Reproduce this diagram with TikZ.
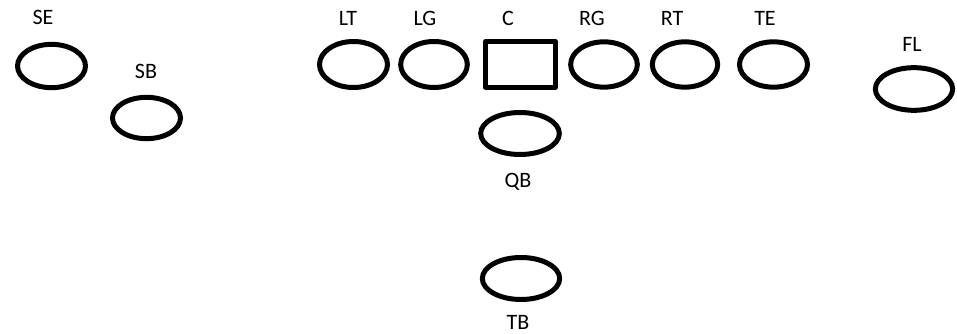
\documentclass[tikz,border=0pt]{standalone}
\usepackage{fontspec}
\setmainfont{Carlito}
\usetikzlibrary{shapes.geometric}
\tikzset{every picture/.style={line width=3.75pt}}
\tikzset{player/.style={draw,ellipse,inner sep=0pt,minimum width=51pt,minimum height=32.5pt},
         cbox/.style={draw,rectangle,line join=round,inner sep=0pt,minimum width=52.5pt,minimum height=34pt},
         poslabel/.style={anchor=base,inner sep=0pt,font=\fontsize{16.5}{19}\selectfont}}

\begin{document}
\begin{tikzpicture}[x=0.75pt,y=0.75pt,yscale=-1,xscale=1]
\useasboundingbox (0,0) rectangle (957,334);
% Players
\node[player] (se) at (51.5,66) {};
\node[player,minimum height=31pt] (sb) at (146.5,118) {};
\node[player,minimum height=34.5pt] (lt) at (353.5,64.5) {};
\node[player,minimum width=50pt,minimum height=34.5pt] (lg) at (434,64.5) {};
\node[cbox] (c) at (520.5,64.5) {};
\node[player,minimum width=50pt,minimum height=34pt] (rg) at (604,64.5) {};
\node[player,minimum width=49pt,minimum height=34pt] (rt) at (685,64.5) {};
\node[player,minimum height=34pt] (te) at (773.5,64.5) {};
\node[player,minimum width=58pt,minimum height=32pt] (fl) at (914,89) {};
\node[player,minimum width=59pt,minimum height=31.5pt] (qb) at (520,133.5) {};
\node[player,minimum width=58pt,minimum height=31.5pt] (tb) at (521,278.5) {};

% Labels
\node[poslabel] (se label) at (43,25) {SE};
\node[poslabel] (sb label) at (146,79) {SB};
\node[poslabel] (lt label) at (348,26) {LT};
\node[poslabel] (lg label) at (425,26) {LG};
\node[poslabel] (c label) at (508,26) {C};
\node[poslabel] (rg label) at (592,26) {RG};
\node[poslabel] (rt label) at (672,26) {RT};
\node[poslabel] (te label) at (765,26) {TE};
\node[poslabel] (fl label) at (912,52) {FL};
\node[poslabel] (qb label) at (518,188) {QB};
\node[poslabel] (tb label) at (518,329.5) {TB};
\end{tikzpicture}
\end{document}
